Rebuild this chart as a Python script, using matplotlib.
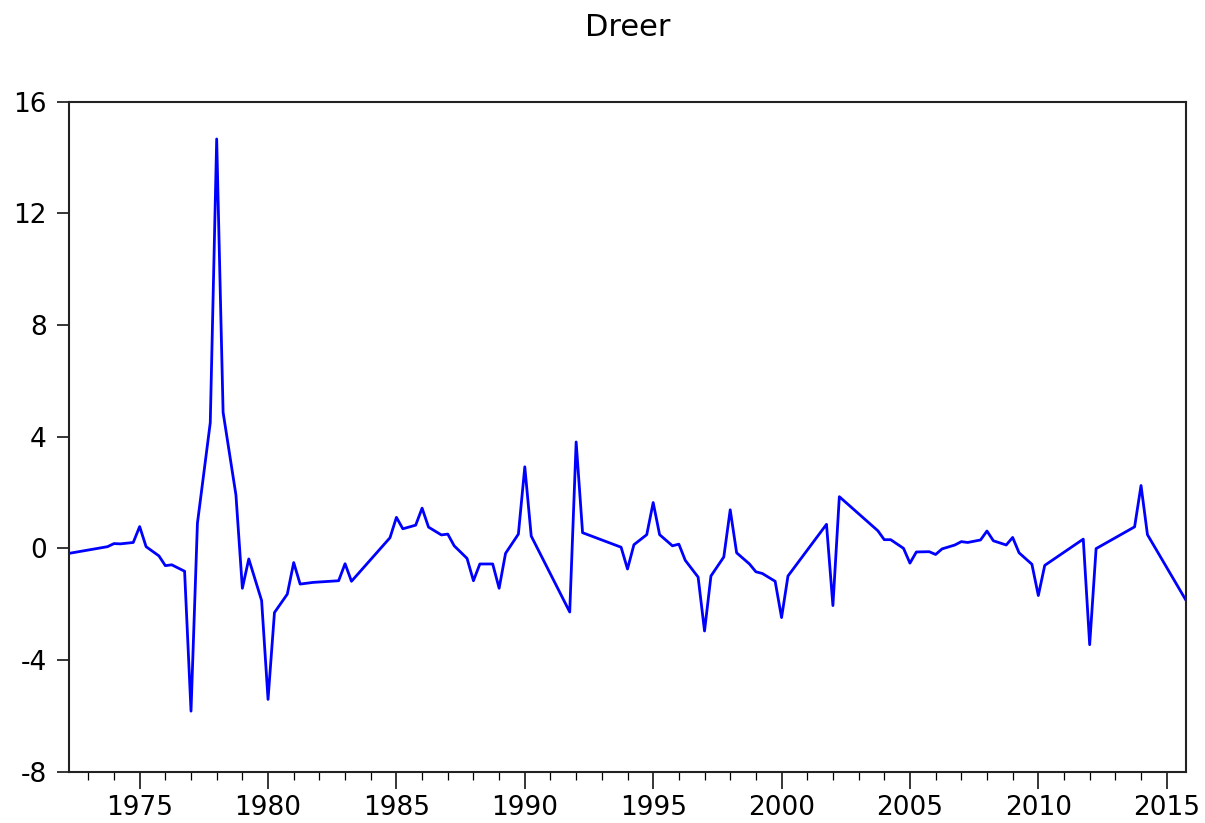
import matplotlib
matplotlib.use("Agg")
import matplotlib.pyplot as plt
from matplotlib.ticker import MultipleLocator

years = [1972.25, 1973.75, 1974.0, 1974.25, 1974.75, 1975.0, 1975.25, 1975.75,
         1976.0, 1976.25, 1976.75, 1977.0, 1977.25, 1977.75, 1978.0, 1978.25,
         1978.75, 1979.0, 1979.25, 1979.75, 1980.0, 1980.25, 1980.75, 1981.0,
         1981.25, 1981.75, 1982.75, 1983.0, 1983.25, 1984.75, 1985.0, 1985.25,
         1985.75, 1986.0, 1986.25, 1986.75, 1987.0, 1987.25, 1987.75, 1988.0,
         1988.25, 1988.75, 1989.0, 1989.25, 1989.75, 1990.0, 1990.25, 1991.75,
         1992.0, 1992.25, 1993.75, 1994.0, 1994.25, 1994.75, 1995.0, 1995.25,
         1995.75, 1996.0, 1996.25, 1996.75, 1997.0, 1997.25, 1997.75, 1998.0,
         1998.25, 1998.75, 1999.0, 1999.25, 1999.75, 2000.0, 2000.25, 2001.75,
         2002.0, 2002.25, 2003.75, 2004.0, 2004.25, 2004.75, 2005.0, 2005.25,
         2005.75, 2006.0, 2006.25, 2006.75, 2007.0, 2007.25, 2007.75, 2008.0,
         2008.25, 2008.75, 2009.0, 2009.25, 2009.75, 2010.0, 2010.25, 2011.75,
         2012.0, 2012.25, 2013.75, 2014.0, 2014.25, 2015.75]
dreer = [-0.18, 0.06, 0.17, 0.16, 0.21, 0.78, 0.06, -0.27,
         -0.62, -0.59, -0.82, -5.83, 0.90, 4.50, 14.66, 4.87,
         1.91, -1.43, -0.38, -1.87, -5.41, -2.30, -1.64, -0.51,
         -1.28, -1.22, -1.16, -0.55, -1.18, 0.38, 1.11, 0.70,
         0.83, 1.44, 0.76, 0.48, 0.51, 0.09, -0.36, -1.16,
         -0.56, -0.56, -1.43, -0.18, 0.51, 2.92, 0.44, -2.28,
         3.81, 0.56, 0.04, -0.74, 0.13, 0.49, 1.64, 0.49,
         0.09, 0.15, -0.43, -1.03, -2.96, -0.99, -0.31, 1.38,
         -0.16, -0.56, -0.84, -0.90, -1.18, -2.48, -0.99, 0.86,
         -2.05, 1.85, 0.63, 0.31, 0.31, 0.00, -0.53, -0.13,
         -0.12, -0.22, -0.02, 0.12, 0.24, 0.21, 0.30, 0.62,
         0.27, 0.12, 0.39, -0.16, -0.57, -1.69, -0.61, 0.33,
         -3.45, -0.01, 0.77, 2.25, 0.49, -1.86]

plt.rcParams['font.family'] = ['DejaVu Sans']
plt.rcParams['axes.unicode_minus'] = False

fig = plt.figure(figsize=(12.05, 8.23), dpi=100)
ax = fig.add_axes([0.0573, 0.0623, 0.9269, 0.8143])

ax.plot(years, dreer, color="#0000ff", linewidth=2.0)

ax.set_xlim(years[0], years[-1])
ax.set_ylim(-8, 16)
ax.yaxis.set_major_locator(MultipleLocator(4))
ax.xaxis.set_major_locator(MultipleLocator(5))
ax.xaxis.set_minor_locator(MultipleLocator(1))

ax.tick_params(axis='y', direction='out', length=9, width=1.1, pad=7,
               labelsize=19, right=False)
ax.tick_params(axis='x', which='major', direction='out', length=12, width=1.1,
               pad=5, labelsize=19)
ax.tick_params(axis='x', which='minor', direction='out', length=6, width=0.9)

for s in ax.spines.values():
    s.set_linewidth(1.5)
    s.set_color("#222222")

fig.text(0.5207, 0.966, "Dreer", ha='center', va='center', fontsize=22)

plt.savefig("out.png", dpi=100, facecolor="white")
plt.close()
